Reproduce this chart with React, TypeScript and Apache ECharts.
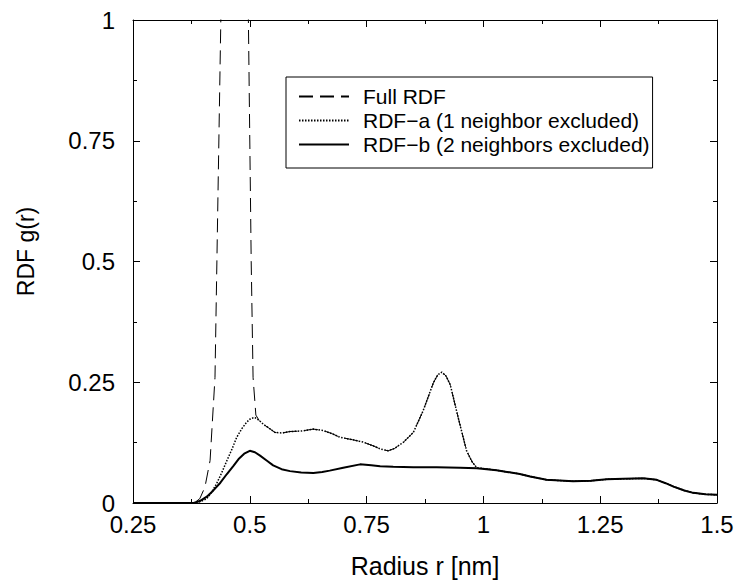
import React, { useEffect, useRef } from "react";
import * as echarts from "echarts";

// Radius values (nm) and RDF values
const rB = [0.25, 0.38, 0.393, 0.408, 0.422, 0.437, 0.451, 0.465, 0.476, 0.488, 0.5, 0.511, 0.522, 0.536, 0.55, 0.568, 0.586, 0.61, 0.636, 0.655, 0.671, 0.7, 0.736, 0.76, 0.779, 0.807, 0.85, 0.9, 0.95, 0.986, 1.028, 1.078, 1.1, 1.135, 1.192, 1.23, 1.264, 1.3, 1.342, 1.371, 1.39, 1.407, 1.43, 1.449, 1.475, 1.5];
const gB = [0, 0, 0.004, 0.013, 0.026, 0.042, 0.06, 0.077, 0.091, 0.102, 0.108, 0.105, 0.098, 0.088, 0.078, 0.07, 0.066, 0.063, 0.062, 0.064, 0.067, 0.073, 0.08, 0.078, 0.076, 0.075, 0.074, 0.074, 0.073, 0.072, 0.068, 0.06, 0.055, 0.048, 0.045, 0.046, 0.049, 0.05, 0.051, 0.048, 0.041, 0.034, 0.026, 0.021, 0.018, 0.017];

// RDF-a: own values up to r = 0.986, then coincides with RDF-b
const rA = [0.25, 0.38, 0.395, 0.408, 0.418, 0.429, 0.44, 0.451, 0.462, 0.472, 0.483, 0.493, 0.502, 0.511, 0.52, 0.529, 0.541, 0.554, 0.57, 0.586, 0.61, 0.636, 0.657, 0.675, 0.693, 0.72, 0.743, 0.765, 0.779, 0.796, 0.81, 0.829, 0.85, 0.871, 0.893, 0.902, 0.911, 0.92, 0.929, 0.946, 0.964, 0.976, 0.986];
const gA = [0, 0, 0.003, 0.009, 0.022, 0.04, 0.063, 0.088, 0.112, 0.136, 0.154, 0.167, 0.175, 0.177, 0.171, 0.163, 0.155, 0.146, 0.145, 0.148, 0.149, 0.153, 0.15, 0.144, 0.136, 0.131, 0.126, 0.118, 0.112, 0.108, 0.113, 0.126, 0.146, 0.191, 0.249, 0.265, 0.271, 0.263, 0.245, 0.177, 0.108, 0.085, 0.073];

// Full RDF: own values up to r = 0.513 (first peak off scale), then coincides with RDF-a
const rFull = [0.25, 0.37, 0.385, 0.393, 0.404, 0.415, 0.4255, 0.438, 0.45, 0.465, 0.48, 0.49, 0.497, 0.503, 0.507, 0.513];
const gFull = [0, 0, 0.003, 0.009, 0.033, 0.088, 0.26, 1.0, 2.4, 3.4, 2.9, 1.7, 1.0, 0.5, 0.26, 0.182];

const seriesNames = ["Full RDF", "RDF\u2212a (1 neighbor excluded)", "RDF\u2212b (2 neighbors excluded)"];

const FONT = "'Liberation Sans', Arial, Helvetica, sans-serif";

function pairs(r: number[], g: number[]): number[][] {
  return r.map((v, i) => [v, g[i]]);
}

export default function App() {
  const ref = useRef<HTMLDivElement>(null);
  useEffect(() => {
    if (!ref.current) return;
    const chart = echarts.init(ref.current, undefined, { renderer: "svg" });
    const dataB = pairs(rB, gB);
    const lastA = rA[rA.length - 1];
    const dataA = pairs(rA, gA).concat(dataB.filter((p) => p[0] > lastA));
    const lastF = rFull[rFull.length - 1];
    const dataF = pairs(rFull, gFull).concat(dataA.filter((p) => p[0] > lastF));

    const axisCommon = {
      axisLine: { show: true, onZero: false, lineStyle: { color: "#000", width: 1 } },
      axisTick: { show: true, inside: true, length: 7, lineStyle: { color: "#000", width: 1 } },
      minorTick: { show: true, splitNumber: 2, length: 4, lineStyle: { color: "#000", width: 1 } },
      splitLine: { show: false },
    };

    chart.setOption({
      animation: false,
      backgroundColor: "#fff",
      textStyle: { fontFamily: FONT },
      grid: { left: 133, right: 21, top: 20, bottom: 77 },
      legend: {
        orient: "vertical",
        left: 286,
        top: 77,
        padding: [9, 3, 13, 12],
        itemGap: 3,
        itemWidth: 50,
        itemHeight: 14,
        borderColor: "#000",
        borderWidth: 1,
        backgroundColor: "#fff",
        data: seriesNames,
        itemStyle: { color: "rgba(0,0,0,0)", borderWidth: 0, opacity: 0 },
        textStyle: { color: "#000", fontSize: 21, fontFamily: FONT, padding: [0, 0, 0, 9] },
      },
      xAxis: [
        {
          type: "value",
          min: 0.25,
          max: 1.5,
          interval: 0.25,
          position: "bottom",
          name: "Radius r [nm]",
          nameLocation: "middle",
          nameGap: 50,
          nameTextStyle: { color: "#000", fontSize: 25, fontFamily: FONT },
          axisLabel: { color: "#000", fontSize: 24, fontFamily: FONT, margin: 9 },
          ...axisCommon,
        },
        {
          type: "value",
          min: 0.25,
          max: 1.5,
          interval: 0.25,
          position: "top",
          axisLabel: { show: false },
          ...axisCommon,
        },
      ],
      yAxis: [
        {
          type: "value",
          min: 0,
          max: 1,
          interval: 0.25,
          position: "left",
          name: "RDF g(r)",
          nameLocation: "middle",
          nameGap: 96,
          nameTextStyle: { color: "#000", fontSize: 23, fontFamily: FONT, padding: [0, 0, 0, 20] },
          axisLabel: { color: "#000", fontSize: 24, fontFamily: FONT, margin: 18 },
          ...axisCommon,
        },
        {
          type: "value",
          min: 0,
          max: 1,
          interval: 0.25,
          position: "right",
          axisLabel: { show: false },
          ...axisCommon,
        },
      ],
      series: [
        {
          name: seriesNames[0],
          type: "line",
          data: dataF,
          symbol: "none",
          clip: true,
          itemStyle: { color: "#000" },
          lineStyle: { color: "#000", width: 1, type: [14, 7] },
          z: 2,
        },
        {
          name: seriesNames[1],
          type: "line",
          data: dataA,
          symbol: "none",
          clip: true,
          itemStyle: { color: "#000" },
          lineStyle: { color: "#000", width: 1.5, type: [1.5, 1.5] },
          z: 3,
        },
        {
          name: seriesNames[2],
          type: "line",
          data: dataB,
          symbol: "none",
          clip: true,
          itemStyle: { color: "#000" },
          lineStyle: { color: "#000", width: 2, type: "solid" },
          z: 4,
        },
      ],
    });
    return () => chart.dispose();
  }, []);
  return (
    <div
      ref={ref}
      style={{ position: "fixed", left: 0, top: 0, width: 738, height: 583, background: "#fff" }}
    />
  );
}
